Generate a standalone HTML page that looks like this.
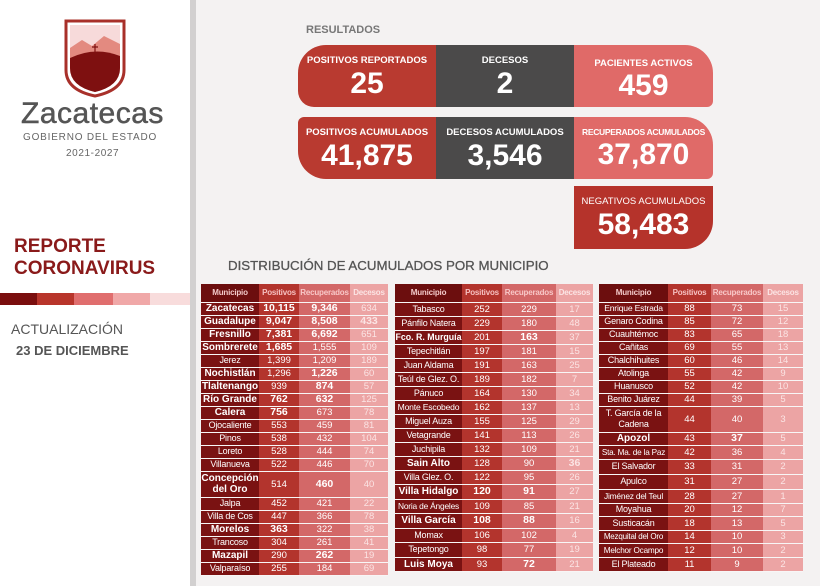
<!DOCTYPE html>
<html><head><meta charset="utf-8"><style>
*{margin:0;padding:0;box-sizing:border-box}
body{width:820px;height:586px;overflow:hidden;background:#f4f2f2;font-family:"Liberation Sans",sans-serif;position:relative}
.left{position:absolute;left:0;top:0;width:190px;height:586px;background:#fff}
.vbar{position:absolute;left:190px;top:0;width:6px;height:586px;background:#d2d0d0}
.abs{position:absolute}
.card{position:absolute;color:#fff;text-align:center;font-weight:bold}
.card .l{font-size:9.5px;margin-top:10px}
.card .n{font-size:30px;margin-top:1px}
table{position:absolute;border-collapse:collapse;table-layout:fixed;font-size:9.5px;color:#fff}
td{text-align:center;padding:0;border-bottom:1px solid rgba(255,255,255,.35);line-height:11px;white-space:nowrap;overflow:hidden}
td:nth-child(1){background:#7a1212;font-size:9px;letter-spacing:-.2px}
td:nth-child(2){background:#b3342d}
td:nth-child(3){background:#d36868}
td:nth-child(4){background:#eca4a4;color:#fbe4e4}
tr.h td{font-weight:bold;font-size:8px;height:18px;letter-spacing:-.2px}
tr.h td:nth-child(1){background:#6c0e0e;color:#f3c9c9}
tr.h td:nth-child(2){color:#f6c0c0}
tr.h td:nth-child(3){color:#f8c8c8}
td.b{font-weight:bold;font-size:10.5px;letter-spacing:0}
td:nth-child(1).b{font-size:10px}
td.w{white-space:normal}
</style></head><body>
<div class="left"></div>
<div class="vbar"></div>
<svg class="abs" style="left:62px;top:18px" width="66" height="80" viewBox="0 0 66 80">
<path d="M4 3 H62 V52 Q62 72 33 78 Q4 72 4 52 Z" fill="none" stroke="#a8302a" stroke-width="3"/>
<path d="M8 7 H58 V50 Q58 68 33 74 Q8 68 8 50 Z" fill="#f7dada"/>
<path d="M8 30 L20 22 L30 28 L42 18 L58 26 V50 Q58 68 33 74 Q8 68 8 50 Z" fill="#e38a80"/>
<path d="M8 40 Q33 28 58 38 V50 Q58 68 33 74 Q8 68 8 50 Z" fill="#7e1010"/>
<path d="M33 26 V34 M30 29 H36" stroke="#7e1010" stroke-width="1.2"/>
</svg>
<div class="abs" style="left:21px;top:97px;font-size:30px;color:#555;letter-spacing:.5px;-webkit-text-stroke:.5px #555">Zacatecas</div>
<div class="abs" style="left:23px;top:132px;font-size:10px;color:#666;letter-spacing:.8px">GOBIERNO DEL ESTADO</div>
<div class="abs" style="left:66px;top:148px;font-size:10px;color:#666;letter-spacing:.6px">2021-2027</div>
<div class="abs" style="left:14px;top:236px;font-size:19px;font-weight:bold;color:#8a1a1a;line-height:22px">REPORTE<br>CORONAVIRUS</div>
<div class="abs" style="left:0;top:293px;width:37px;height:12px;background:#7a0e0e"></div>
<div class="abs" style="left:37px;top:293px;width:37px;height:12px;background:#b8352b"></div>
<div class="abs" style="left:74px;top:293px;width:39px;height:12px;background:#e06e6e"></div>
<div class="abs" style="left:113px;top:293px;width:37px;height:12px;background:#f0a8a8"></div>
<div class="abs" style="left:150px;top:293px;width:40px;height:12px;background:#f8dcdc"></div>
<div class="abs" style="left:11px;top:321px;font-size:14px;color:#555">ACTUALIZACIÓN</div>
<div class="abs" style="left:16px;top:343px;font-size:13px;font-weight:bold;color:#555">23 DE DICIEMBRE</div>

<div class="abs" style="left:306px;top:24px;font-size:11px;font-weight:bold;color:#777">RESULTADOS</div>
<div class="card" style="left:298px;top:45px;width:138px;height:62px;background:#b93a30;border-radius:28px 0 0 16px"><div class="l">POSITIVOS REPORTADOS</div><div class="n">25</div></div>
<div class="card" style="left:436px;top:45px;width:138px;height:62px;background:#4b4a4a"><div class="l">DECESOS</div><div class="n">2</div></div>
<div class="card" style="left:574px;top:45px;width:139px;height:62px;background:#e06a68;border-radius:0 28px 6px 0"><div class="l" style="margin-top:13px">PACIENTES ACTIVOS</div><div class="n" style="margin-top:0">459</div></div>
<div class="card" style="left:298px;top:117px;width:138px;height:62px;background:#b93a30;border-radius:6px 0 0 28px"><div class="l">POSITIVOS ACUMULADOS</div><div class="n">41,875</div></div>
<div class="card" style="left:436px;top:117px;width:138px;height:62px;background:#4b4a4a"><div class="l">DECESOS ACUMULADOS</div><div class="n">3,546</div></div>
<div class="card" style="left:574px;top:117px;width:139px;height:62px;background:#e06a68;border-radius:0 28px 6px 0"><div class="l" style="font-size:8.5px;letter-spacing:-.3px">RECUPERADOS ACUMULADOS</div><div class="n">37,870</div></div>
<div class="card" style="left:574px;top:186px;width:139px;height:63px;background:#b5332b;border-radius:0 0 28px 0"><div class="l" style="font-weight:normal">NEGATIVOS ACUMULADOS</div><div class="n">58,483</div></div>

<div class="abs" style="left:228px;top:258px;font-size:13.3px;color:#555;-webkit-text-stroke:.3px #555">DISTRIBUCIÓN DE ACUMULADOS POR MUNICIPIO</div>

<table style="left:201px;top:284px;width:187px">
<colgroup><col style="width:58px"><col style="width:40px"><col style="width:51px"><col style="width:38px"></colgroup>
<tr class="h"><td>Municipio</td><td>Positivos</td><td>Recuperados</td><td>Decesos</td></tr>
<tr style="height:13px"><td class="b">Zacatecas</td><td class="b">10,115</td><td class="b">9,346</td><td>634</td></tr>
<tr style="height:13px"><td class="b">Guadalupe</td><td class="b">9,047</td><td class="b">8,508</td><td class="b">433</td></tr>
<tr style="height:13px"><td class="b">Fresnillo</td><td class="b">7,381</td><td class="b">6,692</td><td>651</td></tr>
<tr style="height:13px"><td class="b">Sombrerete</td><td class="b">1,685</td><td>1,555</td><td>109</td></tr>
<tr style="height:13px"><td>Jerez</td><td>1,399</td><td>1,209</td><td>189</td></tr>
<tr style="height:13px"><td class="b">Nochistlán</td><td>1,296</td><td class="b">1,226</td><td>60</td></tr>
<tr style="height:13px"><td class="b">Tlaltenango</td><td>939</td><td class="b">874</td><td>57</td></tr>
<tr style="height:13px"><td class="b">Río Grande</td><td class="b">762</td><td class="b">632</td><td>125</td></tr>
<tr style="height:13px"><td class="b">Calera</td><td class="b">756</td><td>673</td><td>78</td></tr>
<tr style="height:13px"><td>Ojocaliente</td><td>553</td><td>459</td><td>81</td></tr>
<tr style="height:13px"><td>Pinos</td><td>538</td><td>432</td><td>104</td></tr>
<tr style="height:13px"><td>Loreto</td><td>528</td><td>444</td><td>74</td></tr>
<tr style="height:13px"><td>Villanueva</td><td>522</td><td>446</td><td>70</td></tr>
<tr style="height:26px"><td class="b w">Concepción del Oro</td><td>514</td><td class="b">460</td><td>40</td></tr>
<tr style="height:13px"><td>Jalpa</td><td>452</td><td>421</td><td>22</td></tr>
<tr style="height:13px"><td>Villa de Cos</td><td>447</td><td>366</td><td>78</td></tr>
<tr style="height:13px"><td class="b">Morelos</td><td class="b">363</td><td>322</td><td>38</td></tr>
<tr style="height:13px"><td>Trancoso</td><td>304</td><td>261</td><td>41</td></tr>
<tr style="height:13px"><td class="b">Mazapil</td><td>290</td><td class="b">262</td><td>19</td></tr>
<tr style="height:13px"><td>Valparaíso</td><td>255</td><td>184</td><td>69</td></tr>
</table>

<table style="left:395px;top:284px;width:198px">
<colgroup><col style="width:67px"><col style="width:40px"><col style="width:54px"><col style="width:37px"></colgroup>
<tr class="h"><td>Municipio</td><td>Positivos</td><td>Recuperados</td><td>Decesos</td></tr>
<tr style="height:14px"><td>Tabasco</td><td>252</td><td>229</td><td>17</td></tr>
<tr style="height:14px"><td>Pánfilo Natera</td><td>229</td><td>180</td><td>48</td></tr>
<tr style="height:14px"><td class="b" style="font-size:8.8px">Fco. R. Murguía</td><td>201</td><td class="b">163</td><td>37</td></tr>
<tr style="height:14px"><td>Tepechitlán</td><td>197</td><td>181</td><td>15</td></tr>
<tr style="height:14px"><td>Juan Aldama</td><td>191</td><td>163</td><td>25</td></tr>
<tr style="height:14px"><td>Teúl de Glez. O.</td><td>189</td><td>182</td><td>7</td></tr>
<tr style="height:14px"><td>Pánuco</td><td>164</td><td>130</td><td>34</td></tr>
<tr style="height:14px"><td style="font-size:8.6px">Monte Escobedo</td><td>162</td><td>137</td><td>13</td></tr>
<tr style="height:14px"><td>Miguel Auza</td><td>155</td><td>125</td><td>29</td></tr>
<tr style="height:14px"><td>Vetagrande</td><td>141</td><td>113</td><td>26</td></tr>
<tr style="height:14px"><td>Juchipila</td><td>132</td><td>109</td><td>21</td></tr>
<tr style="height:14px"><td class="b">Sain Alto</td><td>128</td><td>90</td><td class="b">36</td></tr>
<tr style="height:14px"><td>Villa Glez. O.</td><td>122</td><td>95</td><td>26</td></tr>
<tr style="height:15px"><td class="b">Villa Hidalgo</td><td class="b">120</td><td class="b">91</td><td>27</td></tr>
<tr style="height:14px"><td style="font-size:8.4px">Noria de Ángeles</td><td>109</td><td>85</td><td>21</td></tr>
<tr style="height:15px"><td class="b">Villa García</td><td class="b">108</td><td class="b">88</td><td>16</td></tr>
<tr style="height:14px"><td>Momax</td><td>106</td><td>102</td><td>4</td></tr>
<tr style="height:15px"><td>Tepetongo</td><td>98</td><td>77</td><td>19</td></tr>
<tr style="height:14px"><td class="b">Luis Moya</td><td>93</td><td class="b">72</td><td>21</td></tr>
</table>

<table style="left:599px;top:284px;width:204px">
<colgroup><col style="width:69px"><col style="width:43px"><col style="width:52px"><col style="width:40px"></colgroup>
<tr class="h"><td>Municipio</td><td>Positivos</td><td>Recuperados</td><td>Decesos</td></tr>
<tr style="height:13px"><td style="font-size:8.6px">Enrique Estrada</td><td>88</td><td>73</td><td>15</td></tr>
<tr style="height:13px"><td>Genaro Codina</td><td>85</td><td>72</td><td>12</td></tr>
<tr style="height:13px"><td>Cuauhtémoc</td><td>83</td><td>65</td><td>18</td></tr>
<tr style="height:13px"><td>Cañitas</td><td>69</td><td>55</td><td>13</td></tr>
<tr style="height:13px"><td>Chalchihuites</td><td>60</td><td>46</td><td>14</td></tr>
<tr style="height:13px"><td>Atolinga</td><td>55</td><td>42</td><td>9</td></tr>
<tr style="height:13px"><td>Huanusco</td><td>52</td><td>42</td><td>10</td></tr>
<tr style="height:13px"><td>Benito Juárez</td><td>44</td><td>39</td><td>5</td></tr>
<tr style="height:26px"><td class="w">T. García de la Cadena</td><td>44</td><td>40</td><td>3</td></tr>
<tr style="height:13px"><td class="b">Apozol</td><td>43</td><td class="b">37</td><td>5</td></tr>
<tr style="height:14px"><td style="font-size:8.2px">Sta. Ma. de la Paz</td><td>42</td><td>36</td><td>4</td></tr>
<tr style="height:15px"><td>El Salvador</td><td>33</td><td>31</td><td>2</td></tr>
<tr style="height:15px"><td>Apulco</td><td>31</td><td>27</td><td>2</td></tr>
<tr style="height:14px"><td style="font-size:8.4px">Jiménez del Teul</td><td>28</td><td>27</td><td>1</td></tr>
<tr style="height:13px"><td>Moyahua</td><td>20</td><td>12</td><td>7</td></tr>
<tr style="height:14px"><td>Susticacán</td><td>18</td><td>13</td><td>5</td></tr>
<tr style="height:13px"><td style="font-size:8px">Mezquital del Oro</td><td>14</td><td>10</td><td>3</td></tr>
<tr style="height:14px"><td style="font-size:8.2px">Melchor Ocampo</td><td>12</td><td>10</td><td>2</td></tr>
<tr style="height:14px"><td>El Plateado</td><td>11</td><td>9</td><td>2</td></tr>
</table>
</body></html>
